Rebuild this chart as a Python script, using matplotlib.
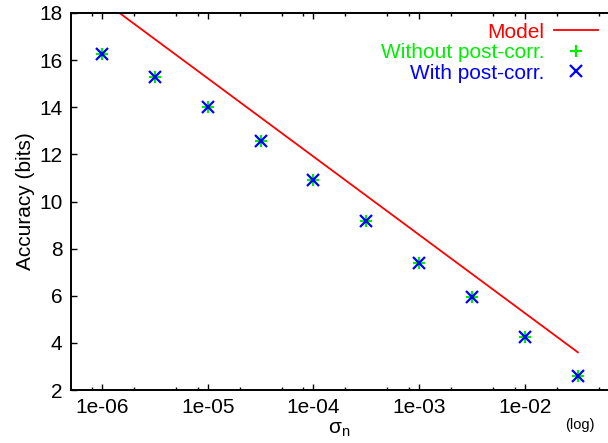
import numpy as np
import matplotlib
matplotlib.use("Agg")
import matplotlib.pyplot as plt
from matplotlib.ticker import FixedLocator, FixedFormatter, NullLocator

plt.rcParams['font.family'] = ['Liberation Sans', 'DejaVu Sans']
plt.rcParams['mathtext.fontset'] = 'custom'
plt.rcParams['mathtext.rm'] = 'Liberation Sans'
plt.rcParams['mathtext.it'] = 'Liberation Sans:italic'

# ---- data ----
sigma = [1e-6, 3.162e-6, 1e-5, 3.162e-5, 1e-4, 3.162e-4, 1e-3, 3.162e-3, 1e-2, 3.162e-2]
acc_without = [16.26, 15.28, 14.01, 12.57, 10.92, 9.17, 7.39, 5.95, 4.24, 2.60]
acc_with = [16.26, 15.28, 14.01, 12.57, 10.92, 9.17, 7.39, 5.95, 4.24, 2.60]
model_sigma = [1e-6, 3.162e-2]
model_acc = [18.55, 3.60]

xtick_vals = [1e-6, 1e-5, 1e-4, 1e-3, 1e-2]
xtick_labels = ['1e-06', '1e-05', '1e-04', '1e-03', '1e-02']
ytick_vals = [2, 4, 6, 8, 10, 12, 14, 16, 18]
labels = ['Model', 'Without post-corr.', 'With post-corr.']

RED, GREEN, BLUE = '#ff0000', '#00ee00', '#0000ff'
FS = 15

fig = plt.figure(figsize=(6.08, 4.43), dpi=100)
W, H = 608, 443
left, right, top, bottom = 70.7, 608, 13, 390
ax = fig.add_axes([left / W, 1 - bottom / H, (right - left) / W, (bottom - top) / H])

ax.plot(model_sigma, model_acc, color=RED, lw=1.3, label=labels[0], clip_on=True)
ax.plot(sigma, acc_without, ls='none', marker='+', ms=9, mew=1.6, color=GREEN, label=labels[1])
ax.plot(sigma, acc_with, ls='none', marker='x', ms=8, mew=1.6, color=BLUE, label=labels[2])

ax.set_xscale('log')
ax.set_xlim(10 ** -6.296, 10 ** -1.215)
ax.set_ylim(2, 18)

ax.xaxis.set_major_locator(FixedLocator(xtick_vals))
ax.xaxis.set_major_formatter(FixedFormatter(xtick_labels))
minor = [m * 10.0 ** e for e in range(-7, -1) for m in (2, 5, 8)]
ax.xaxis.set_minor_locator(FixedLocator(minor))
ax.xaxis.set_minor_formatter(FixedFormatter([''] * len(minor)))
ax.yaxis.set_major_locator(FixedLocator(ytick_vals))
ax.yaxis.set_minor_locator(NullLocator())

ax.tick_params(axis='both', which='major', direction='in', length=4.5, width=1.0,
               labelsize=FS, pad=6, top=True, right=False)
ax.tick_params(axis='x', which='minor', direction='in', length=2.5, width=1.0, top=True)
for s in ['left', 'bottom', 'top']:
    ax.spines[s].set_linewidth(1.4)
ax.spines['right'].set_visible(False)

ax.set_ylabel('Accuracy (bits)', fontsize=FS)
ax.yaxis.set_label_coords(-0.066, 0.5)
ax.set_xlabel(r'$\mathrm{σ_n}$', fontsize=FS, labelpad=2)
fig.text(580 / W, 1 - 425 / H, '(log)', fontsize=10.5, ha='center', va='center')

leg = ax.legend(loc='upper right', bbox_to_anchor=(1.0, 1.0), frameon=False,
                markerfirst=False, fontsize=FS, handlelength=2.1, handletextpad=0.48,
                labelspacing=0.07, borderpad=0.22, borderaxespad=0.25,
                labelcolor=[RED, GREEN, BLUE])

fig.savefig('out.png', dpi=100)
